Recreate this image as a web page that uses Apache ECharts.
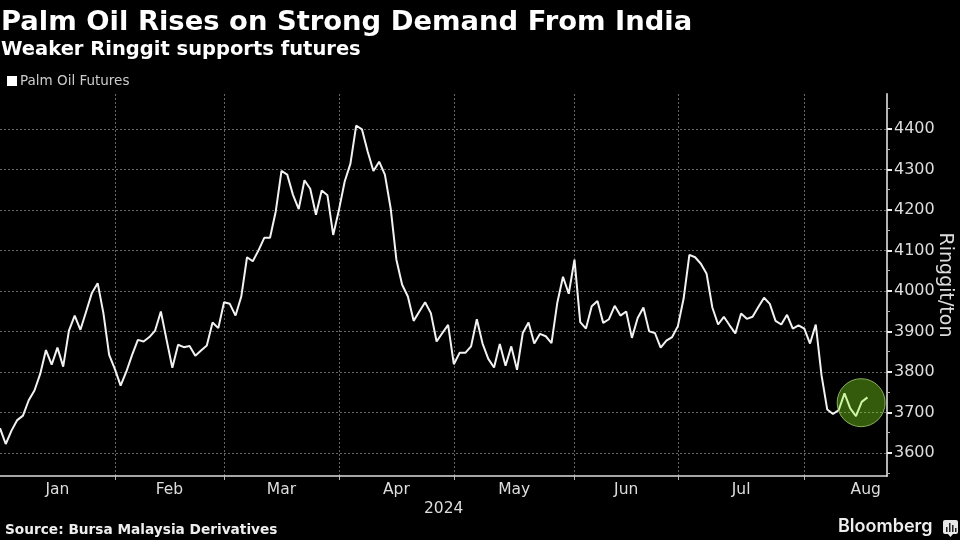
<!DOCTYPE html>
<html style="height: 100%">

<head>
    <meta charset="utf-8">
    <script src="https://cdn.jsdelivr.net/npm/echarts@6/dist/echarts.min.js"></script>
</head>

<body style="height: 100%; margin: 0; background: #000">
<div id="container" style="width: 960px; height: 540px"></div>

<script type="text/javascript">
    // daily closes, one per trading day
    var prices = [
        3661, 3622, 3655, 3681, 3692, 3730, 3754, 3795, 3854, 3818,
        3860, 3813, 3902, 3939, 3904, 3949, 3995, 4019, 3945, 3842,
        3807, 3766, 3801, 3842, 3879, 3875, 3886, 3902, 3949, 3879,
        3810, 3867, 3861, 3864, 3840, 3853, 3865, 3922, 3908, 3972,
        3968, 3939, 3986, 4083, 4073, 4100, 4131, 4131, 4196, 4296,
        4287, 4237, 4202, 4273, 4252, 4188, 4248, 4236, 4138, 4200,
        4270, 4314, 4408, 4399, 4344, 4296, 4319, 4287, 4204, 4077,
        4015, 3986, 3926, 3949, 3972, 3945, 3875, 3896, 3916, 3819,
        3847, 3847, 3863, 3930, 3870, 3832, 3811, 3869, 3815, 3863,
        3805, 3896, 3922, 3870, 3894, 3888, 3871, 3970, 4035, 3993,
        4077, 3923, 3907, 3962, 3975, 3921, 3930, 3963, 3939, 3949,
        3884, 3933, 3959, 3900, 3896, 3860, 3877, 3886, 3913, 3981,
        4089, 4083, 4067, 4042, 3959, 3917, 3936, 3915, 3895, 3944,
        3931, 3936, 3960, 3983, 3968, 3926, 3917, 3941, 3907, 3915,
        3907, 3870, 3917, 3792, 3707, 3696, 3706, 3747, 3710, 3691,
        3726, 3737
    ];
    var seriesName = 'Palm Oil Futures';
    var monthNames = ['Jan', 'Feb', 'Mar', 'Apr', 'May', 'Jun', 'Jul', 'Aug'];
    var monthStarts = [20, 39, 59, 79, 100, 118, 140];   // trading day index of each month boundary
    var monthMiddles = [10, 29.5, 49, 69, 89.5, 109, 129, 150.7];
    var priceTicks = [3600, 3700, 3800, 3900, 4000, 4100, 4200, 4300, 4400];
    var halfTicks = [3550, 3650, 3750, 3850, 3950, 4050, 4150, 4250, 4350, 4450];
    var highlight = [149.9, 3724];

    var white = '#f2f2f2';
    var grey = '#b4b4b4';
    var font = 'DejaVu Sans';
    var yMin = 3543, yMax = 4486;

    var points = [];
    for (var i = 0; i < prices.length; i++) {
        points.push([i, prices[i]]);
    }

    var myChart = echarts.init(document.getElementById('container'));

    var option = {
        backgroundColor: '#000',
        animation: false,
        textStyle: { fontFamily: font },
        title: [
            { text: 'Palm Oil Rises on Strong Demand From India', left: 1, top: 9, padding: 0,
              textStyle: { color: '#fff', fontSize: 27.4, fontWeight: 'bold', fontFamily: font } },
            { text: 'Weaker Ringgit supports futures', left: 1, top: 40, padding: 0,
              textStyle: { color: '#fff', fontSize: 19.5, fontWeight: 'bold', fontFamily: font } },
            { text: 'Source: Bursa Malaysia Derivatives', left: 5, top: 523, padding: 0,
              textStyle: { color: '#eee', fontSize: 13.7, fontWeight: 'bold', fontFamily: font } },
            { text: '2024', left: 424, top: 501, padding: 0,
              textStyle: { color: '#ddd', fontSize: 15.5, fontWeight: 'normal', fontFamily: font } },
            { text: 'Bloomberg', left: 838, top: 518, padding: 0,
              textStyle: { color: '#eee', fontSize: 18, fontWeight: 600, fontFamily: 'Inter' } }
        ],
        legend: {
            left: 2, top: 69,
            icon: 'rect',
            itemWidth: 10, itemHeight: 10, itemGap: 3,
            data: [seriesName],
            textStyle: { color: '#ccc', fontSize: 13.5, fontFamily: font, padding: [0, 0, 0, -2] }
        },
        grid: { left: 0, right: 73, top: 94, bottom: 64, outerBoundsMode: 'none' },
        xAxis: {
            type: 'value',
            min: 0,
            max: 154.4,
            axisLine: { show: true, onZero: false, lineStyle: { color: '#ddd', width: 1.5 } },
            axisTick: { show: true, length: 4, customValues: monthStarts, lineStyle: { color: grey } },
            axisLabel: {
                color: '#ddd', fontSize: 15.5, fontFamily: font, margin: 6,
                customValues: monthMiddles,
                formatter: function (value) {
                    return monthNames[monthMiddles.indexOf(value)];
                }
            },
            splitLine: { show: true, lineStyle: { color: '#666', type: [2, 2], width: 1 } }
        },
        yAxis: [
            {
                type: 'value',
                position: 'right',
                min: yMin,
                max: yMax,
                axisLine: { show: true, onZero: false, lineStyle: { color: grey, width: 2 } },
                axisTick: { show: true, length: 5, customValues: priceTicks, lineStyle: { color: '#eee', width: 2 } },
                axisLabel: {
                    color: '#ddd', fontSize: 16, fontFamily: font, margin: 7,
                    customValues: priceTicks,
                    formatter: function (value) { return String(value); }
                },
                splitLine: { show: true, lineStyle: { color: '#666', type: [2, 2], width: 1 } }
            },
            {
                // second axis only carries the small ticks between the labelled ones
                type: 'value',
                position: 'right',
                min: yMin,
                max: yMax,
                axisLine: { show: false, onZero: false },
                axisTick: { show: true, length: 3, customValues: halfTicks, lineStyle: { color: grey, width: 1 } },
                axisLabel: { show: false },
                splitLine: { show: false }
            }
        ],
        series: [
            {
                name: seriesName,
                type: 'line',
                data: points,
                symbol: 'none',
                itemStyle: { color: '#fff' },
                lineStyle: { color: white, width: 2 },
                markPoint: {
                    silent: true,
                    symbol: 'circle',
                    symbolSize: 48,
                    label: { show: false },
                    itemStyle: {
                        color: 'rgba(144, 250, 33, 0.36)',
                        borderColor: 'rgba(170, 215, 120, 0.75)',
                        borderWidth: 1
                    },
                    data: [{ coord: highlight }]
                }
            }
        ],
        graphic: [
            {
                // axis title, the axis name option would not sit close enough to the labels
                type: 'text',
                x: 945,
                y: 285,
                rotation: -Math.PI / 2,
                style: {
                    text: 'Ringgit/ton',
                    fill: '#ddd',
                    font: '19px "DejaVu Sans"',
                    textAlign: 'center',
                    textVerticalAlign: 'middle'
                }
            },
            {
                // small Bloomberg chat mark
                type: 'group',
                left: 943,
                top: 520,
                children: [
                    { type: 'rect', shape: { x: 0, y: 0, width: 15, height: 14, r: 2 }, style: { fill: '#e8e8e8' } },
                    { type: 'polygon', shape: { points: [[5, 14], [10, 14], [7.5, 17]] }, style: { fill: '#e8e8e8' } },
                    { type: 'rect', shape: { x: 3, y: 7, width: 1.5, height: 5 }, style: { fill: '#222' } },
                    { type: 'rect', shape: { x: 6, y: 3, width: 1.5, height: 9 }, style: { fill: '#222' } },
                    { type: 'rect', shape: { x: 9, y: 5, width: 1.5, height: 7 }, style: { fill: '#222' } },
                    { type: 'rect', shape: { x: 12, y: 8, width: 1.5, height: 4 }, style: { fill: '#222' } }
                ]
            }
        ]
    };

    myChart.setOption(option, true);
</script>
</body>

</html>
